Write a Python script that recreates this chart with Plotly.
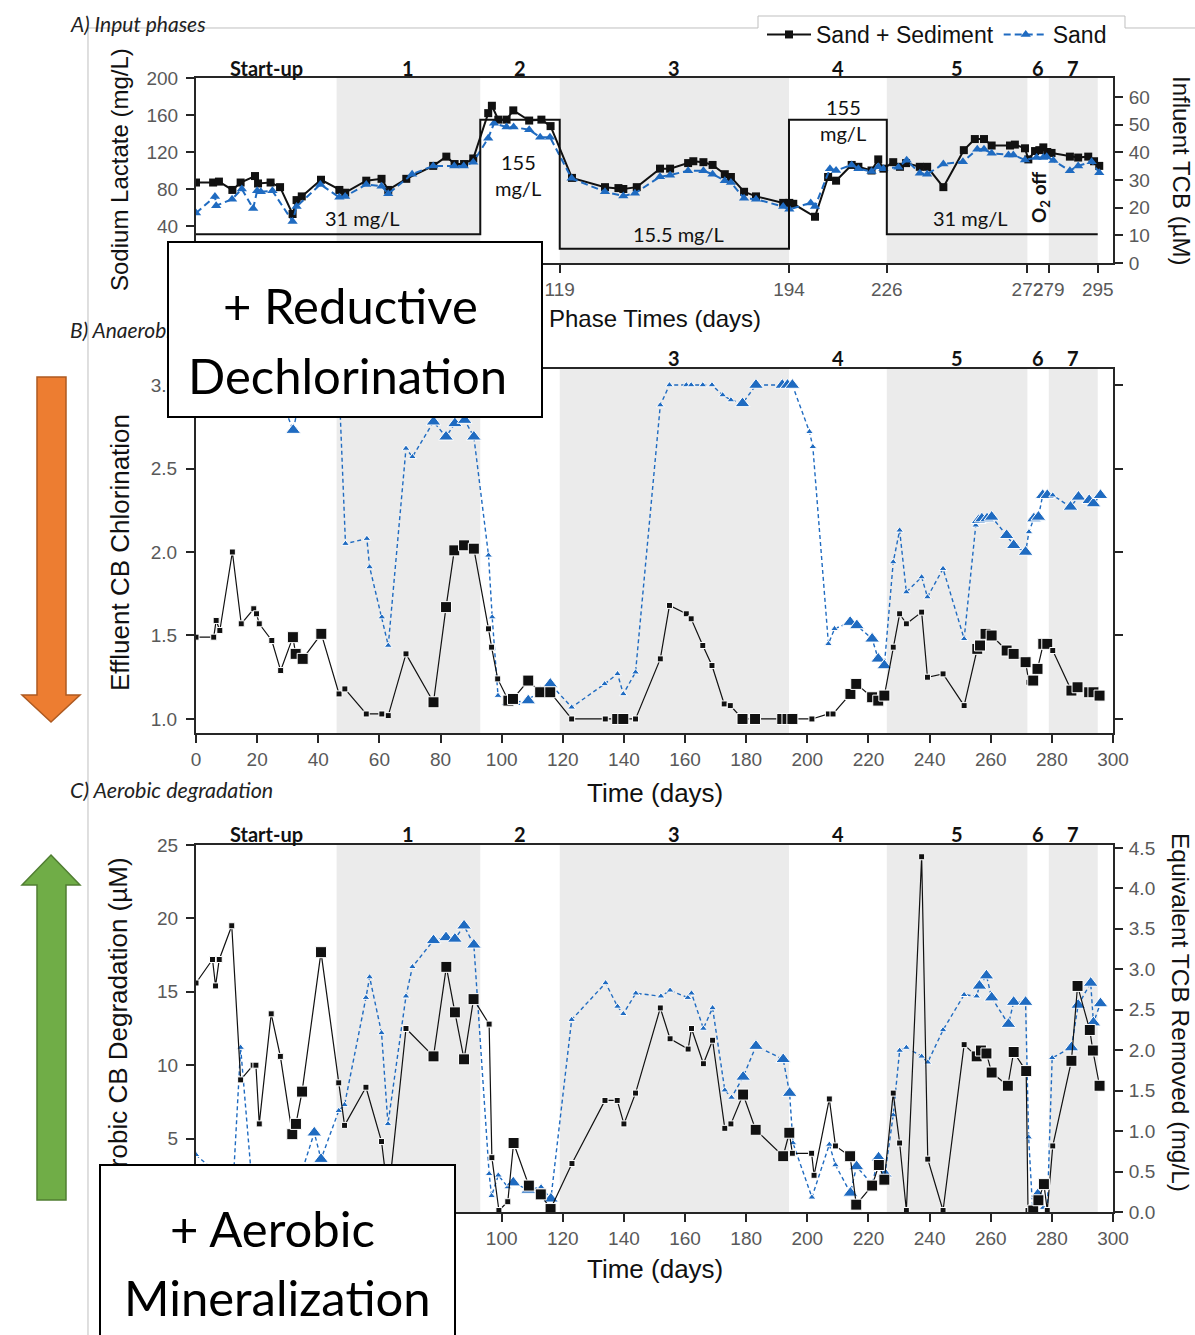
import plotly.graph_objects as go

W, H = 1195, 1335

# ---------------- data ----------------
phase_names = ["Start-up", "1", "2", "3", "4", "5", "6", "7"]
phase_bounds = [0, 46, 93, 119, 194, 226, 272, 279, 295]
shaded_phases = [(46, 93), (119, 194), (226, 272), (279, 295)]
A_xticks = [0, 46, 93, 119, 194, 226, 272, 279, 295]

feed_days = [0, 93, 119, 194, 226, 295]
feed_conc = [31, 155, 15.5, 155, 31, 31]

# Panel A (sodium lactate, mg/L)
A_ss_day = [0, 5.6, 7.5, 11.9, 14.6, 19.3, 20.3, 24.4, 27.5, 31.6, 32.9, 34.6, 40.9, 46.9, 48.8,
            55.7, 60.7, 62.9, 68.8, 77.6, 81.9, 84.6, 87.7, 90.7, 95.6, 96.8, 98.9, 101.6, 103.8, 109.0,
            113.0, 116.0, 123.0, 133.8, 138.2, 139.8, 144.2, 151.8, 155.1, 161.0, 162.7, 166.0, 169.0, 173.0, 175.0,
            179.3, 183.2, 192.1, 194.1, 195.4, 202.5, 206.8, 209.4, 214.5, 216.7, 221.0, 223.2, 224.9, 228.1, 230.3,
            232.3, 236.8, 239.2, 244.5, 251.2, 254.8, 257.8, 260.3, 266.3, 267.9, 271.2, 272.3, 274.5, 275.9, 277.2,
            278.5, 279.9, 285.9, 288.6, 291.9, 293.8, 295.5]
A_ss_val = [87, 87, 88, 79, 87, 94, 86, 87, 82, 53, 68, 72, 90, 79, 76,
            89, 91, 79, 91, 105, 115, 107, 107, 113, 162, 170, 155, 155, 165, 154,
            155, 148, 92, 82, 81, 80, 82, 102, 102, 108, 110, 109, 106, 96, 93,
            77, 72, 65, 65, 64, 50, 93, 89, 106, 104, 100, 112, 102, 109, 104,
            108, 104, 104, 82, 122, 134, 134, 127, 127, 128, 124, 112, 121, 122, 125,
            120, 119, 115, 114, 115, 110, 105]
A_s_day = [0, 6.2, 6.6, 11.8, 15.0, 18.7, 20.0, 21.2, 25.0, 31.6, 32.9, 40.7, 46.9, 48.8, 55.7,
           60.7, 62.9, 70.7, 77.6, 84.5, 87.6, 90.7, 95.6, 97.5, 101.6, 103.9, 109.0, 112.6, 115.8, 122.9,
           133.8, 139.8, 143.6, 151.8, 155.1, 161.0, 166.0, 169.0, 173.0, 175.0, 179.3, 183.2, 192.1, 194.1, 201.1,
           202.5, 207.4, 209.4, 214.5, 216.7, 221.0, 223.2, 224.9, 229.8, 232.5, 236.8, 239.2, 244.5, 250.9, 255.6,
           257.8, 260.3, 265.8, 267.4, 271.2, 275.0, 277.2, 278.3, 280.5, 285.9, 288.6, 293.0, 295.5]
A_s_val = [54, 72, 62, 69, 80, 59, 78, 77, 78, 45, 61, 85, 71, 72, 85,
           83, 75, 96, 105, 105, 105, 109, 135, 151, 147, 147, 144, 136, 136, 91.5,
           77, 72.4, 75.3, 93.3, 95, 99.8, 99.8, 96, 89, 87, 70, 69, 61, 58, 65,
           61, 102, 100, 106, 102, 99, 104, 102, 103.5, 111, 97, 96, 107, 109.5, 123,
           123, 118.6, 116.8, 116.8, 111.4, 114, 114, 115, 110.7, 99.8, 105, 109.5, 97.6]

# Panel B (effluent CB chlorination)
B_ss_day = [0, 5.8, 6.6, 7.8, 11.9, 14.8, 18.9, 19.8, 20.7, 24.8, 27.7, 31.7, 32.6, 34.9, 41.0,
            46.8, 48.7, 55.7, 60.8, 62.9, 68.7, 77.7, 81.8, 84.5, 87.7, 90.9, 95.7, 96.7, 98.7, 102.2,
            103.7, 108.7, 112.6, 115.9, 122.9, 133.9, 137.8, 139.8, 143.8, 151.9, 154.9, 160.4, 162.0, 165.8, 168.8,
            172.8, 174.8, 178.8, 182.9, 191.8, 193.5, 195.1, 201.5, 206.9, 208.4, 214.1, 216.0, 221.2, 223.2, 225.2,
            228.1, 230.2, 232.4, 237.4, 239.3, 244.4, 251.3, 255.6, 256.5, 258.3, 260.3, 265.2, 267.5, 271.4, 272.5,
            273.9, 275.3, 277.2, 278.5, 280.3, 286.4, 288.4, 292.2, 293.6, 295.6]
B_ss_val = [1.49, 1.49, 1.59, 1.53, 2.0, 1.57, 1.66, 1.63, 1.57, 1.47, 1.29, 1.49, 1.39, 1.36, 1.51,
            1.15, 1.18, 1.03, 1.03, 1.02, 1.39, 1.10, 1.67, 2.01, 2.04, 2.02, 1.54, 1.43, 1.24, 1.11,
            1.12, 1.23, 1.16, 1.16, 1.0, 1.0, 1.0, 1.0, 1.0, 1.36, 1.68, 1.63, 1.60, 1.44, 1.32,
            1.09, 1.08, 1.0, 1.0, 1.0, 1.0, 1.0, 1.0, 1.03, 1.03, 1.15, 1.21, 1.13, 1.11, 1.14,
            1.43, 1.63, 1.57, 1.64, 1.25, 1.27, 1.08, 1.42, 1.44, 1.51, 1.50, 1.41, 1.39, 1.34, 1.22,
            1.23, 1.30, 1.45, 1.45, 1.41, 1.17, 1.19, 1.16, 1.16, 1.14]
B_s_day = [0, 5.8, 7.8, 11.9, 14.8, 18.9, 20.7, 24.8, 27.7, 31.8, 34.9, 41.0, 46.8, 48.9, 55.9,
           56.8, 60.8, 62.9, 68.7, 70.8, 77.7, 81.8, 84.7, 87.9, 90.9, 95.7, 96.9, 98.8, 102.2, 104.0,
           108.7, 112.6, 115.9, 122.9, 133.7, 137.9, 139.8, 143.8, 151.9, 154.9, 160.4, 162.0, 165.8, 168.8, 172.3,
           175.0, 178.8, 183.2, 191.8, 193.5, 195.1, 200.7, 201.8, 206.9, 208.9, 214.0, 216.2, 221.2, 223.2, 225.2,
           228.1, 230.2, 232.4, 237.4, 239.3, 244.4, 251.3, 255.1, 256.0, 257.1, 258.8, 260.3, 265.2, 267.5, 271.4,
           272.5, 274.1, 275.6, 277.0, 278.5, 280.3, 286.1, 288.7, 292.2, 293.6, 295.9]
B_s_val = [3.0, 3.0, 3.0, 3.0, 2.95, 3.0, 3.0, 3.0, 2.92, 2.73, 3.0, 3.0, 3.0, 2.05, 2.08,
           1.91, 1.61, 1.44, 2.62, 2.57, 2.78, 2.69, 2.77, 2.79, 2.69, 1.98, 1.61, 1.14, 1.10, 1.10,
           1.11, 1.18, 1.21, 1.07, 1.21, 1.27, 1.15, 1.28, 2.88, 3.0, 3.0, 3.0, 3.0, 3.0, 2.94,
           2.91, 2.89, 3.0, 3.0, 3.0, 3.0, 2.72, 2.63, 1.45, 1.54, 1.58, 1.56, 1.48, 1.36, 1.32,
           1.94, 2.13, 1.76, 1.85, 1.73, 1.90, 1.48, 2.16, 2.19, 2.20, 2.20, 2.21, 2.10, 2.04, 2.0,
           2.12, 2.20, 2.21, 2.34, 2.34, 2.34, 2.27, 2.33, 2.31, 2.29, 2.34]

# Panel C (aerobic CB degradation, uM)
C_ss_day = [0, 5.4, 6.4, 7.6, 11.7, 14.6, 18.7, 19.6, 20.7, 24.6, 27.6, 31.5, 32.7, 34.7, 40.9,
            46.7, 48.6, 55.6, 60.7, 62.9, 68.7, 77.7, 81.9, 84.7, 87.7, 90.8, 95.9, 96.8, 99.1, 102.0,
            103.9, 108.9, 112.8, 116.0, 123.0, 133.8, 137.8, 140.0, 143.8, 151.9, 155.1, 161.0, 162.1, 166.0, 169.0,
            173.0, 175.0, 179.0, 183.1, 192.1, 194.1, 195.1, 201.4, 202.2, 207.2, 209.2, 214.0, 216.0, 221.2, 223.4,
            225.2, 228.1, 230.2, 232.4, 237.4, 239.4, 244.4, 251.3, 255.4, 256.8, 258.6, 260.3, 265.6, 267.5, 271.6,
            272.2, 273.9, 275.6, 277.4, 278.5, 280.3, 286.4, 288.4, 292.4, 293.4, 295.6]
C_ss_val = [15.6, 17.2, 15.4, 17.2, 19.5, 9.0, 10.0, 10.0, 6.0, 13.5, 10.6, 5.3, 6.0, 8.2, 17.7,
            8.8, 5.9, 8.5, 4.8, 1.0, 12.5, 10.6, 16.7, 13.6, 10.4, 14.5, 12.8, 3.7, 0.1, 0.7,
            4.7, 1.8, 1.2, 0.2, 3.3, 7.6, 7.6, 6.0, 8.1, 13.9, 11.8, 11.1, 12.5, 10.1, 11.7,
            5.7, 6.0, 8.0, 5.6, 3.8, 5.4, 4.0, 4.0, 2.5, 7.7, 4.5, 3.8, 0.5, 1.8, 3.2,
            2.2, 8.1, 4.7, 0.1, 24.2, 3.6, 0.1, 11.4, 10.6, 11.0, 10.8, 9.5, 8.6, 10.9, 9.6,
            0.1, 0.1, 0.8, 1.9, 0.1, 4.5, 10.3, 15.4, 12.4, 11.0, 8.6]
C_s_day = [0, 5.4, 6.4, 7.6, 11.7, 14.6, 18.7, 19.6, 20.7, 24.6, 27.6, 31.5, 32.7, 34.7, 38.7,
           40.9, 46.7, 48.6, 55.6, 56.8, 60.7, 62.8, 68.7, 70.8, 77.7, 81.8, 84.7, 87.7, 90.9, 95.9,
           96.7, 98.9, 102.0, 103.8, 108.7, 112.9, 116.1, 122.9, 134.0, 137.9, 139.8, 143.9, 152.1, 155.1, 160.9,
           162.1, 166.0, 169.0, 173.0, 175.2, 179.0, 183.2, 192.1, 194.2, 195.3, 201.5, 207.2, 209.2, 214.1, 216.1,
           221.2, 223.3, 225.4, 228.1, 230.2, 232.4, 237.4, 239.4, 244.4, 251.3, 255.4, 256.3, 258.6, 260.3, 265.8,
           267.5, 271.4, 272.4, 273.7, 275.4, 277.2, 278.5, 280.1, 286.4, 288.6, 292.7, 293.6, 295.9]
C_s_val = [3.9, 2.9, 1.5, 0.8, 0.2, 11.2, 1.0, 0.5, 0.8, 1.2, 0.6, 1.5, 2.0, 2.8, 5.4,
           3.6, 6.9, 7.3, 14.6, 16.0, 12.2, 6.0, 14.7, 16.7, 18.5, 18.7, 18.6, 19.5, 18.2, 2.6,
           1.1, 2.5, 1.7, 2.0, 1.5, 1.7, 0.9, 13.1, 15.6, 14.0, 13.5, 14.9, 14.7, 15.1, 14.6,
           14.9, 12.5, 13.9, 8.3, 7.8, 9.2, 11.3, 10.4, 8.1, 4.7, 1.0, 4.6, 3.2, 1.3, 3.1,
           1.9, 3.7, 2.6, 6.6, 11.0, 11.2, 10.6, 10.2, 12.4, 14.8, 14.7, 15.4, 16.1, 14.6, 12.8,
           14.3, 14.3, 5.1, 0.2, 1.2, 0.3, 0.1, 10.5, 11.2, 14.1, 15.6, 12.9, 14.2]

# days on which the larger marker symbol is used (style)
B_ss_big = [31.7, 32.6, 34.9, 41.0, 77.7, 81.8, 84.5, 87.7, 90.9, 102.2, 103.7, 108.7, 112.6, 115.9, 137.8,
            139.8, 178.8, 182.9, 191.8, 193.5, 195.1, 214.1, 216.0, 221.2, 223.2, 225.2, 255.6, 256.5, 258.3,
            260.3, 265.2, 267.5, 271.4, 273.9, 275.3, 277.2, 278.5, 286.4, 288.4, 292.2, 293.6, 295.6]
B_s_big = [31.8, 77.7, 81.8, 84.7, 87.9, 90.9, 102.2, 104.0, 108.7, 115.9, 178.8, 183.2, 191.8, 193.5, 195.1,
           214.0, 216.2, 221.2, 223.2, 225.2, 256.0, 257.1, 258.8, 260.3, 265.2, 267.5, 271.4, 274.1, 275.6,
           277.0, 278.5, 286.1, 288.7, 292.2, 293.6, 295.9]
C_ss_big = [31.5, 32.7, 34.7, 40.9, 77.7, 81.9, 84.7, 87.7, 90.8, 103.9, 108.9, 112.8, 116.0, 179.0, 183.1,
            192.1, 194.1, 214.0, 216.0, 221.2, 223.4, 225.2, 255.4, 256.8, 258.6, 260.3, 265.6, 267.5, 271.6,
            273.9, 275.6, 277.4, 286.4, 288.4, 292.4, 293.4, 295.6]
C_s_big = [38.7, 40.9, 77.7, 81.8, 84.7, 87.7, 90.9, 103.8, 108.7, 116.1, 179.0, 183.2, 192.1, 194.2, 214.1,
           216.1, 223.3, 225.4, 256.3, 258.6, 260.3, 265.8, 267.5, 271.4, 273.7, 275.4, 286.4, 288.6, 292.7,
           293.6, 295.9]

TCB_MG_PER_UMOL = 0.18145

# ---------------- helpers ----------------
def PX(x):
    return x / W


def PY(y):
    return 1 - y / H


def sizes(days, big_days, small, big):
    bs = set(big_days)
    return [big if d in bs else small for d in days]


BLACK = "#111111"
BLUE = "#1F6BC1"
TICKFONT = dict(family="Liberation Sans, Arial", size=19, color="#595959")
ARIAL = "Liberation Sans, Arial"
CAL = "Lato, Carlito, Calibri, sans-serif"

fig = go.Figure()

# Panel A traces
fig.add_trace(go.Scatter(x=A_ss_day, y=A_ss_val, xaxis="x", yaxis="y", mode="lines+markers",
                         name="Sand + Sediment", line=dict(color=BLACK, width=2),
                         marker=dict(symbol="square", size=8, color=BLACK, opacity=1)))
fig.add_trace(go.Scatter(x=A_s_day, y=A_s_val, xaxis="x", yaxis="y", mode="lines+markers",
                         name="Sand", line=dict(color=BLUE, width=2, dash="7px,4px"),
                         marker=dict(symbol="triangle-up", size=9, color=BLUE, opacity=1)))
fig.add_trace(go.Scatter(x=feed_days, y=feed_conc, xaxis="x", yaxis="y", mode="lines",
                         line=dict(color=BLACK, width=2, shape="hv"), showlegend=False, hoverinfo="skip"))
fig.add_trace(go.Scatter(x=[0], y=[0], xaxis="x", yaxis="y2", mode="markers",
                         marker=dict(opacity=0), showlegend=False, hoverinfo="skip"))

# Panel B traces
fig.add_trace(go.Scatter(x=B_s_day, y=B_s_val, xaxis="x2", yaxis="y3", mode="lines+markers",
                         line=dict(color=BLUE, width=1.4, dash="4px,3px"),
                         marker=dict(symbol="triangle-up", size=sizes(B_s_day, B_s_big, 7, 13),
                                     color=BLUE, opacity=1),
                         showlegend=False))
fig.add_trace(go.Scatter(x=B_ss_day, y=B_ss_val, xaxis="x2", yaxis="y3", mode="lines+markers",
                         line=dict(color=BLACK, width=1.2),
                         marker=dict(symbol="square", size=sizes(B_ss_day, B_ss_big, 6, 11),
                                     color=BLACK, opacity=1),
                         showlegend=False))

# Panel C traces
fig.add_trace(go.Scatter(x=C_s_day, y=C_s_val, xaxis="x3", yaxis="y4", mode="lines+markers",
                         line=dict(color=BLUE, width=1.4, dash="4px,3px"),
                         marker=dict(symbol="triangle-up", size=sizes(C_s_day, C_s_big, 7, 13),
                                     color=BLUE, opacity=1),
                         showlegend=False))
fig.add_trace(go.Scatter(x=C_ss_day, y=C_ss_val, xaxis="x3", yaxis="y4", mode="lines+markers",
                         line=dict(color=BLACK, width=1.2),
                         marker=dict(symbol="square", size=sizes(C_ss_day, C_ss_big, 6, 11),
                                     color=BLACK, opacity=1),
                         showlegend=False))
fig.add_trace(go.Scatter(x=[0], y=[0], xaxis="x3", yaxis="y5", mode="markers",
                         marker=dict(opacity=0), showlegend=False, hoverinfo="skip"))

# ---------------- axes ----------------
AX = dict(showgrid=False, zeroline=False, showline=True, linecolor="#262626", linewidth=2,
          ticks="outside", ticklen=8, tickwidth=2, tickcolor="#262626", tickfont=TICKFONT,
          automargin=False, fixedrange=True)
xdom = [196 / W, 1113 / W]
day_ticks = list(range(0, 301, 20))

fig.update_layout(
    xaxis=dict(**AX, domain=xdom, range=[0, 300], anchor="y", mirror=True, tickangle=0,
               tickvals=A_xticks, ticktext=[str(t) for t in A_xticks]),
    yaxis=dict(**AX, domain=[PY(263), PY(78)], range=[0, 200], anchor="x", ticklabelstandoff=4,
               tickvals=[40, 80, 120, 160, 200]),
    yaxis2=dict(**AX, overlaying="y", side="right", anchor="x", range=[0, 66.9], ticklabelstandoff=2,
                tickvals=[0, 10, 20, 30, 40, 50, 60]),
    xaxis2=dict(**AX, domain=xdom, range=[0, 300], anchor="y3", mirror=True, tickangle=0,
                tickvals=day_ticks),
    yaxis3=dict(**AX, domain=[PY(733), PY(369)], range=[0.916, 3.096], anchor="x2", mirror="ticks",
                ticklabelstandoff=5,
                tickvals=[1.0, 1.5, 2.0, 2.5, 3.0], ticktext=["1.0", "1.5", "2.0", "2.5", "3.0"]),
    xaxis3=dict(**AX, domain=xdom, range=[0, 300], anchor="y4", mirror=True, tickangle=0,
                tickvals=day_ticks),
    yaxis4=dict(**AX, domain=[PY(1212), PY(845)], range=[0, 25], anchor="x3", ticklabelstandoff=4,
                tickvals=[0, 5, 10, 15, 20, 25]),
    yaxis5=dict(**AX, overlaying="y4", side="right", anchor="x3", range=[0, 25 * TCB_MG_PER_UMOL],
                ticklabelstandoff=2,
                tickvals=[0, 0.5, 1.0, 1.5, 2.0, 2.5, 3.0, 3.5, 4.0, 4.5], tickformat=".1f"),
)

# ---------------- shapes ----------------
shapes = []
for xr, yr in (("x", "y"), ("x2", "y3"), ("x3", "y4")):
    for a, b in shaded_phases:
        shapes.append(dict(type="rect", xref=xr, yref=yr + " domain", x0=a, x1=b, y0=0, y1=1,
                           fillcolor="#EBEBEB", line=dict(width=0), layer="below"))


def path(points, close=True):
    s = "M " + " L ".join(f"{PX(x):.5f},{PY(y):.5f}" for x, y in points)
    return s + (" Z" if close else "")


# grey frame lines and legend tab
shapes.append(dict(type="path", xref="paper", yref="paper",
                   path=path([(88, 1335), (88, 28), (758, 28)], close=False),
                   line=dict(color="#BFBFBF", width=1)))
shapes.append(dict(type="path", xref="paper", yref="paper",
                   path=path([(758, 28), (758, 16), (1125, 16), (1125, 28), (1195, 28)], close=False),
                   line=dict(color="#BFBFBF", width=1)))
# orange down arrow
shapes.append(dict(type="path", xref="paper", yref="paper",
                   path=path([(37, 377), (66, 377), (66, 695), (80, 695), (51, 722), (22, 695), (37, 695)]),
                   fillcolor="#ED7D31", line=dict(color="#AE5A21", width=1.5)))
# green up arrow
shapes.append(dict(type="path", xref="paper", yref="paper",
                   path=path([(51, 855), (80, 885), (66, 885), (66, 1200), (37, 1200), (37, 885), (22, 885)]),
                   fillcolor="#70AD47", line=dict(color="#507E32", width=1.5)))

# ---------------- annotations ----------------
ann = []


def txt(x, y, text, size=18, family=CAL, color="#111111", angle=0, xanchor="center", **kw):
    ann.append(dict(x=PX(x), y=PY(y), xref="paper", yref="paper", text=text, showarrow=False,
                    font=dict(family=family, size=size, color=color), textangle=angle,
                    xanchor=xanchor, yanchor="middle", **kw))


# panel titles
txt(68, 23, "<i>A) Input phases</i>", size=21, color="#222222", xanchor="left")
txt(68, 329, "<i>B) Anaerobic dechlorination</i>", size=21, color="#222222", xanchor="left")
txt(68, 790, "<i>C) Aerobic degradation</i>", size=21.5, color="#222222", xanchor="left")

# phase labels
for ytop in (68, 358, 834):
    for i, nm in enumerate(phase_names):
        mid = (phase_bounds[i] + phase_bounds[i + 1]) / 2
        txt(196 + mid * (917 / 300), ytop, f"<b>{nm}</b>", size=20)

# axis titles
txt(120, 170, "Sodium Lactate (mg/L)", family=ARIAL, size=24, angle=-90)
txt(1181, 170, "Influent TCB (µM)", family=ARIAL, size=24, angle=90)
txt(655, 319, "Phase Times (days)", family=ARIAL, size=24)
txt(120, 553, "Effluent CB Chlorination", family=ARIAL, size=26, angle=-90)
txt(655, 793, "Time (days)", family=ARIAL, size=26)
txt(118, 1028, "Aerobic CB Degradation (µM)", family=ARIAL, size=26, angle=-90)
txt(1181, 1012, "Equivalent TCB Removed (mg/L)", family=ARIAL, size=24.5, angle=90)
txt(655, 1269, "Time (days)", family=ARIAL, size=26)

# feed labels
txt(362, 218, "31 mg/L", size=20)
txt(518, 162, "155", size=20)
txt(518, 188, "mg/L", size=20)
txt(678, 234, "15.5 mg/L", size=20)
txt(843, 107, "155", size=20)
txt(843, 133, "mg/L", size=20)
txt(970, 218, "31 mg/L", size=20)
txt(1040, 198, "<b>O<sub>2</sub> off</b>", size=19, angle=-90)

# overlay boxes (drawn last so they cover what is beneath)
ann.append(dict(x=PX(355), y=PY(329.5), xref="paper", yref="paper", text=" ", showarrow=False,
                width=372, height=173, bgcolor="white", bordercolor="black", borderwidth=2, borderpad=0,
                xanchor="center", yanchor="middle"))
txt(350, 305, "+ Reductive", size=49, color="black")
txt(347, 375, "Dechlorination", size=49, color="black")
ann.append(dict(x=PX(277.5), y=PY(1256), xref="paper", yref="paper", text=" ", showarrow=False,
                width=353, height=180, bgcolor="white", bordercolor="black", borderwidth=2, borderpad=0,
                xanchor="center", yanchor="middle"))
txt(272, 1228, "+ Aerobic", size=49, color="black")
txt(277, 1297, "Mineralization", size=49, color="black")

fig.update_layout(
    template="none",
    width=W, height=H,
    margin=dict(l=0, r=0, t=0, b=0),
    paper_bgcolor="white", plot_bgcolor="white",
    shapes=shapes,
    annotations=ann,
    showlegend=True,
    legend=dict(orientation="h", x=PX(762), y=PY(13), xanchor="left", yanchor="top",
                font=dict(family=ARIAL, size=23, color="#111111"),
                bgcolor="rgba(0,0,0,0)", borderwidth=0, itemwidth=44),
)

fig.write_html("out.html")
